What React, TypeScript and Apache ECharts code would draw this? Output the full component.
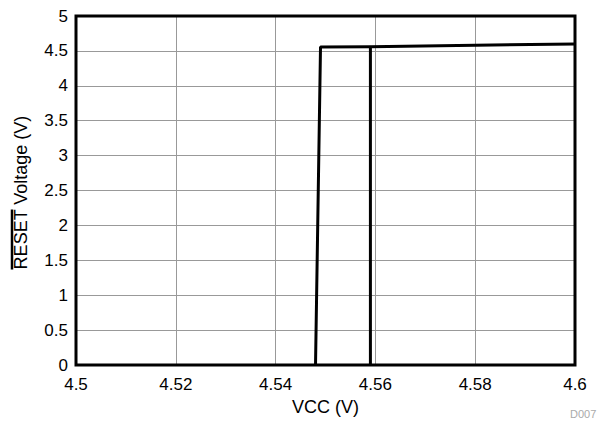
import React, { useEffect, useRef } from "react";
import * as echarts from "echarts";

const xTicks = { min: 4.5, max: 4.6, interval: 0.02 };
const yTicks = { min: 0, max: 5, interval: 0.5 };

// falling VCC trace (RESET goes low at ~4.548 V)
const fallX = [4.548, 4.549, 4.559];
const fallY = [0, 4.555, 4.56];
// rising VCC trace (RESET goes high at ~4.559 V)
const riseX = [4.559, 4.559, 4.6];
const riseY = [0, 4.56, 4.6];

const xName = "VCC (V)";
const yName = "RESET Voltage (V)";
const yNameOver = "RESET";
const footnote = "D007";

const FONT = '"Liberation Sans", Arial, sans-serif';

export default function App() {
  const ref = useRef<HTMLDivElement>(null);
  useEffect(() => {
    if (!ref.current) return;
    const chart = echarts.init(ref.current, undefined, { renderer: "svg" });
    const canvas = document.createElement("canvas");
    const ctx = canvas.getContext("2d")!;
    ctx.font = `18px ${FONT}`;
    const W = ctx.measureText(yName).width;
    const w = ctx.measureText(yNameOver).width;
    const cx = 21;
    const cy = 192.5;
    const bottom = cy + W / 2;
    const fmt = (v: number) => String(parseFloat(v.toFixed(3)));
    chart.setOption({
      animation: false,
      backgroundColor: "#fff",
      grid: {
        left: 76,
        right: 28,
        top: 16,
        bottom: 52,
        show: true,
        borderColor: "#000",
        borderWidth: 3,
        z: 3,
      },
      xAxis: {
        type: "value",
        min: xTicks.min,
        max: xTicks.max,
        interval: xTicks.interval,
        name: xName,
        nameLocation: "middle",
        nameGap: 30,
        nameTextStyle: { color: "#000", fontSize: 18, fontFamily: FONT },
        axisLine: { show: false },
        axisTick: { show: false },
        axisLabel: { color: "#000", fontSize: 17, fontFamily: FONT, margin: 11, formatter: fmt },
        splitLine: { show: true, lineStyle: { color: "#999", width: 1 } },
      },
      yAxis: {
        type: "value",
        min: yTicks.min,
        max: yTicks.max,
        interval: yTicks.interval,
        axisLine: { show: false },
        axisTick: { show: false },
        axisLabel: { color: "#000", fontSize: 17, fontFamily: FONT, margin: 8, formatter: fmt },
        splitLine: { show: true, lineStyle: { color: "#999", width: 1 } },
      },
      graphic: [
        {
          type: "text",
          x: cx,
          y: cy,
          rotation: Math.PI / 2,
          style: {
            text: yName,
            font: `18px ${FONT}`,
            fill: "#000",
            textAlign: "center",
            textVerticalAlign: "middle",
          },
        },
        {
          type: "line",
          shape: { x1: cx - 9, y1: bottom, x2: cx - 9, y2: bottom - w },
          style: { stroke: "#000", lineWidth: 2.5 },
        },
        {
          type: "text",
          x: 570,
          y: 408,
          style: { text: footnote, font: `11px ${FONT}`, fill: "#aaa" },
        },
      ],
      series: [
        {
          type: "line",
          data: fallX.map((x, i) => [x, fallY[i]]),
          showSymbol: false,
          lineStyle: { color: "#000", width: 3 },
          z: 5,
        },
        {
          type: "line",
          data: riseX.map((x, i) => [x, riseY[i]]),
          showSymbol: false,
          lineStyle: { color: "#000", width: 3 },
          z: 5,
        },
      ],
    });
    return () => chart.dispose();
  }, []);
  return (
    <div
      ref={ref}
      style={{ position: "absolute", left: 0, top: 0, width: 603, height: 421 }}
    />
  );
}
